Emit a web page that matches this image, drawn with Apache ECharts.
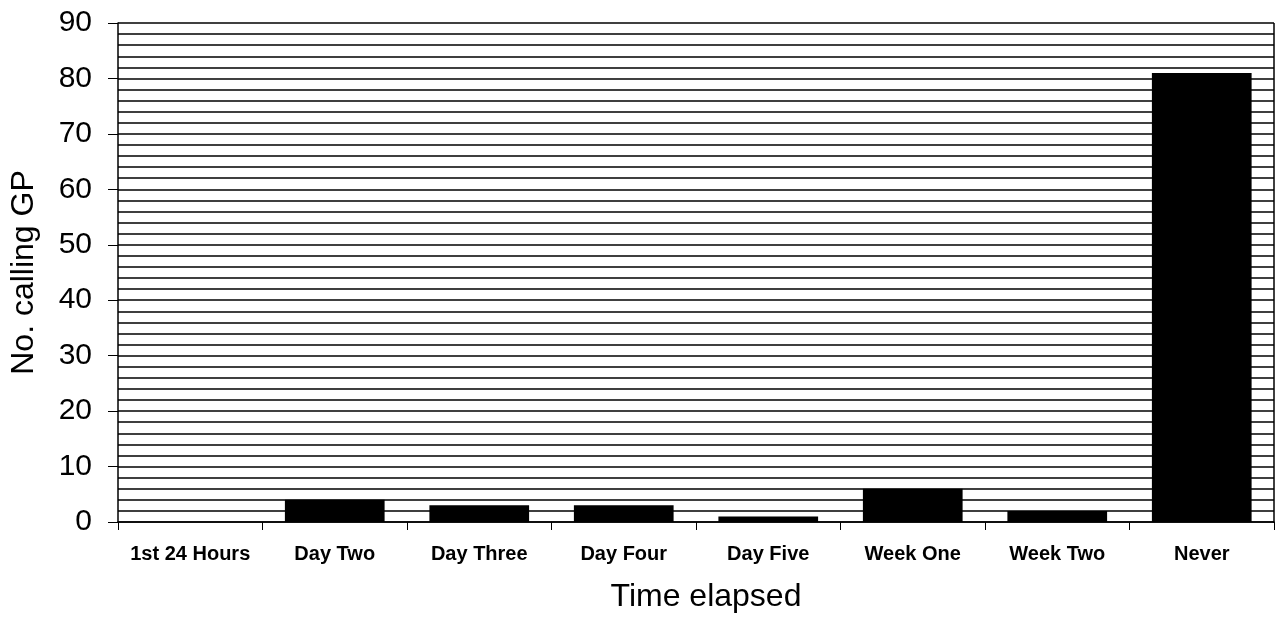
<!DOCTYPE html>
<html lang="en">
<head>
    <meta charset="UTF-8">
    <title>Time elapsed</title>
    <script src="https://cdn.jsdelivr.net/npm/echarts@6/dist/echarts.min.js"></script>
    <style>
        body { margin: 0; background: #fff; }
        #chart { width: 1276px; height: 618px; }
    </style>
</head>
<body>
<div id="chart"></div>
<script>
    var categories = ['1st 24 Hours', 'Day Two', 'Day Three', 'Day Four', 'Day Five', 'Week One', 'Week Two', 'Never'];
    var callingGP = [0, 4, 3, 3, 1, 6, 2, 81];
    var yTicks = [0, 10, 20, 30, 40, 50, 60, 70, 80, 90];

    var myChart = echarts.init(document.getElementById('chart'));
    var option = {
        backgroundColor: '#fff',
        animation: false,
        textStyle: { fontFamily: 'Liberation Sans, Arial, sans-serif', color: '#000' },
        grid: { left: 118, right: 2, top: 23, bottom: 95 },
        xAxis: {
            type: 'category',
            data: categories,
            name: 'Time elapsed',
            nameLocation: 'middle',
            nameGap: 59,
            nameTextStyle: { fontSize: 32, color: '#000', padding: [0, 0, 0, 20] },
            axisLine: { lineStyle: { color: '#000', width: 1.5 } },
            axisTick: { show: true, interval: 0, length: 8, lineStyle: { color: '#000' } },
            axisLabel: { interval: 0, hideOverlap: false, fontSize: 20, color: '#000', fontWeight: 'bold', margin: 22 }
        },
        yAxis: {
            type: 'value',
            min: yTicks[0],
            max: yTicks[yTicks.length - 1],
            interval: 10,
            name: 'No. calling GP',
            nameLocation: 'middle',
            nameGap: 78,
            nameTextStyle: { fontSize: 32, color: '#000' },
            axisLine: { show: true, lineStyle: { color: '#000', width: 1.5 } },
            axisTick: { show: true, length: 10, lineStyle: { color: '#000' } },
            axisLabel: { fontSize: 30, color: '#000', margin: 26 },
            splitLine: { show: true, lineStyle: { color: '#000', width: 1.5 } },
            minorTick: { show: false, splitNumber: 5 },
            minorSplitLine: { show: true, lineStyle: { color: '#000', width: 1.5 } }
        },
        series: [{
            type: 'bar',
            data: callingGP,
            barCategoryGap: '31%',
            itemStyle: { color: '#000' }
        }],
        graphic: [{
            type: 'line',
            shape: { x1: 1274, y1: 23, x2: 1274, y2: 523 },
            style: { stroke: '#000', lineWidth: 1.5 }
        }]
    };
    myChart.setOption(option);
</script>
</body>
</html>
